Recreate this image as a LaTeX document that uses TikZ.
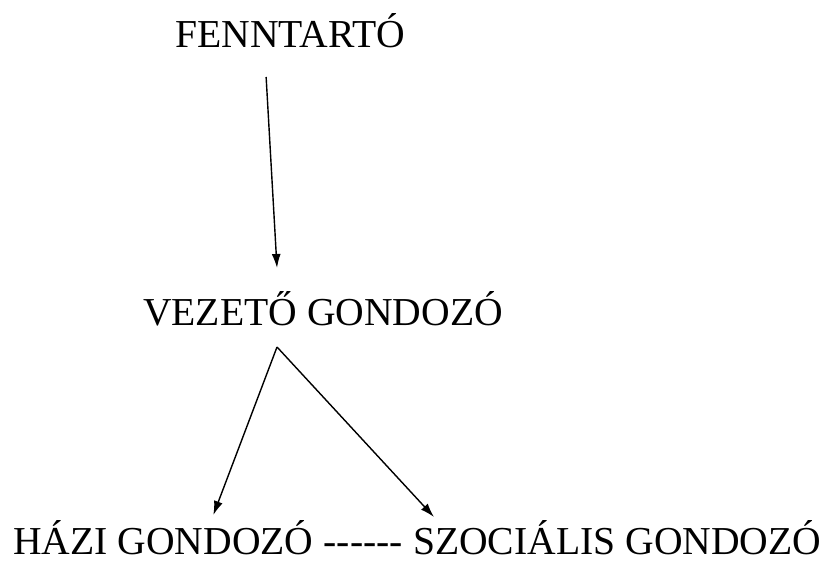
\documentclass[tikz,border=0pt]{standalone}
\usepackage{fontspec}
\setmainfont{Liberation Serif}
\usetikzlibrary{positioning,arrows.meta}

\tikzset{
    lbl/.style={font=\fontsize{39.6}{45}\selectfont, inner sep=0pt},
    arr/.style={line width=1.4pt, -{Latex[length=14pt,width=9pt]}}
}

\begin{document}
\begin{tikzpicture}[x=1pt,y=1pt]
                    \useasboundingbox (0,0) rectangle (824,562);
                    \node[lbl, anchor=base west] (fen) at (175,514) {FENNTARTÓ};
                    \node[lbl, anchor=base west] (vez) at (143,236) {VEZETŐ GONDOZÓ};
                    \node[lbl, anchor=base west] (haz) at (13,8) {HÁZI GONDOZÓ};
                    \node[lbl, base right=9.9pt of haz] (dash) {-{}-{}-{}-{}-{}-};
                    \node[lbl, base right=9.9pt of dash] (szoc) {SZOCIÁLIS GONDOZÓ};
                    \draw[arr] ([shift={(-24,-29)}]fen.base) -- ([shift={(-46,58)}]vez.base);
                    \draw[arr] ([shift={(-46,-21)}]vez.base) -- ([shift={(50,39)}]haz.base);
                    \draw[arr] ([shift={(-46,-21)}]vez.base) -- ([shift={(21,37)}]szoc.base west);
                \end{tikzpicture}
\end{document}
